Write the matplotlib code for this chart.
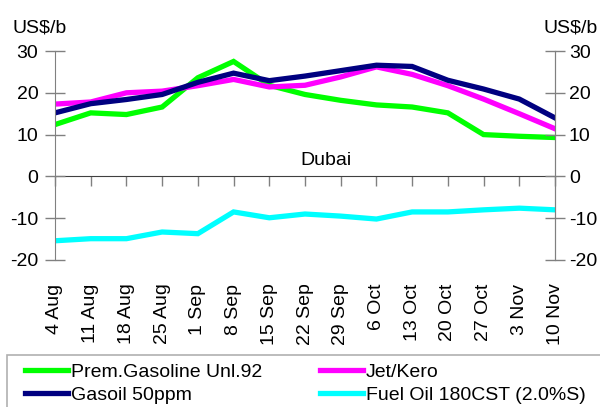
import numpy as np
import matplotlib
matplotlib.use('Agg')
import matplotlib.pyplot as plt
from matplotlib.patches import Rectangle

plt.rcParams['font.family'] = ['Liberation Sans', 'DejaVu Sans']

weeks = ['4 Aug', '11 Aug', '18 Aug', '25 Aug', '1 Sep', '8 Sep', '15 Sep', '22 Sep',
         '29 Sep', '6 Oct', '13 Oct', '20 Oct', '27 Oct', '3 Nov', '10 Nov']
gasoline = [12.4, 15.2, 14.8, 16.6, 23.6, 27.5, 21.8, 19.6, 18.2, 17.1, 16.6, 15.2, 10.0, 9.6, 9.3]
jet_kero = [17.3, 17.8, 20.0, 20.4, 21.7, 23.2, 21.4, 21.8, 23.8, 26.2, 24.4, 21.7, 18.5, 15.0, 11.4]
gasoil = [15.2, 17.4, 18.4, 19.6, 22.5, 24.7, 22.9, 24.0, 25.3, 26.6, 26.3, 23.0, 20.9, 18.5, 14.0]
fuel_oil = [-15.4, -14.9, -14.9, -13.3, -13.7, -8.5, -9.9, -9.0, -9.5, -10.2, -8.5, -8.5, -8.0, -7.6, -8.0]

x = np.arange(len(weeks))
fs = 14
grey = '#808080'

fig = plt.figure(figsize=(6, 4.07), dpi=100)
ax = fig.add_axes([55/600, 1 - 260/407, 500/600, 209/407])

ax.plot(x, gasoline, color='#00ff00', lw=3.8, label='Prem.Gasoline Unl.92', solid_joinstyle='miter')
ax.plot(x, jet_kero, color='#ff00ff', lw=3.8, label='Jet/Kero', solid_joinstyle='miter')
ax.plot(x, gasoil, color='#000080', lw=3.8, label='Gasoil 50ppm', solid_joinstyle='miter')
ax.plot(x, fuel_oil, color='#00ffff', lw=3.8, label='Fuel Oil 180CST (2.0%S)', solid_joinstyle='miter')

ax.set_xlim(0, len(weeks) - 1)
ax.set_ylim(-20, 30)
ax.set_yticks([-20, -10, 0, 10, 20, 30])
ax.set_yticklabels(['-20', '-10', '0', '10', '20', '30'], fontsize=fs)
ax.tick_params(axis='y', direction='inout', length=14, width=1, color=grey, pad=5)
ax.set_xticks(x)
ax.set_xticklabels(weeks, rotation=90, fontsize=fs)
ax.tick_params(axis='x', length=0, pad=17)
for s in ['top', 'bottom']:
    ax.spines[s].set_visible(False)
for s in ['left', 'right']:
    ax.spines[s].set_color(grey)

ax.text(6.86, 3.9, 'Dubai', fontsize=fs, va='center', ha='left')

# zero line with ticks
zax = ax.secondary_xaxis(0.4)
zax.set_xticks(x)
zax.set_xticklabels([])
zax.tick_params(direction='out', length=7, width=1, color=grey)
zax.spines['bottom'].set_color('#404040')

ax2 = ax.twinx()
ax2.set_ylim(-20, 30)
ax2.set_yticks([-20, -10, 0, 10, 20, 30])
ax2.set_yticklabels(['-20', '-10', '0', '10', '20', '30'], fontsize=fs)
ax2.tick_params(axis='y', direction='inout', length=14, width=1, color=grey, pad=3)
for s in ['top', 'bottom', 'left']:
    ax2.spines[s].set_visible(False)
ax2.spines['right'].set_color(grey)

fig.text(13/600, 1 - 33/407, 'US$/b', fontsize=fs, ha='left', va='baseline')
fig.text(598/600, 1 - 33/407, 'US$/b', fontsize=fs, ha='right', va='baseline')

# legend box
fig.patches.append(Rectangle((7/600, -0.05), 1.1, 1 - 355/407 + 0.05, transform=fig.transFigure,
                             fill=False, edgecolor='#b0b0b0', lw=1.2))
h, l = ax.get_legend_handles_labels()
order = [0, 2, 1, 3]
fig.legend([h[i] for i in order], [l[i] for i in order], ncol=2, frameon=False,
           loc='upper left', bbox_to_anchor=(25/600, 1 - 363/407), borderaxespad=0, borderpad=0,
           fontsize=fs, handlelength=2.2, handletextpad=0.15, columnspacing=3.0,
           labelspacing=0.3)

fig.savefig('out.png', dpi=100)
